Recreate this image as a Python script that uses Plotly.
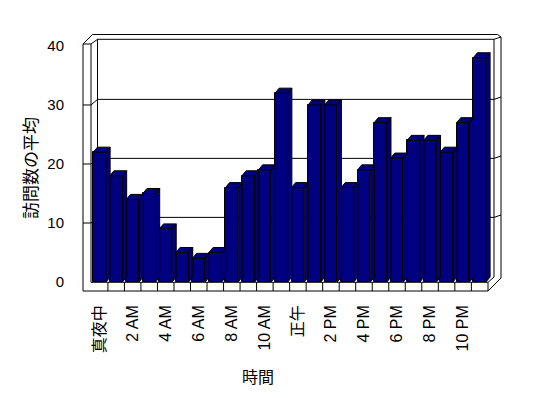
import plotly.graph_objects as go

# ---- data ----
hours = ["真夜中", "1 AM", "2 AM", "3 AM", "4 AM", "5 AM", "6 AM", "7 AM",
         "8 AM", "9 AM", "10 AM", "11 AM", "正午", "1 PM", "2 PM", "3 PM",
         "4 PM", "5 PM", "6 PM", "7 PM", "8 PM", "9 PM", "10 PM", "11 PM"]
visits = [22, 18, 14, 15, 9, 5, 4, 5, 16, 18, 19, 32,
          16, 30, 30, 16, 19, 27, 21, 24, 24, 22, 27, 38]
tick_labels = ["真夜中", "2 AM", "4 AM", "6 AM", "8 AM", "10 AM",
               "正午", "2 PM", "4 PM", "6 PM", "8 PM", "10 PM"]
y_ticks = [0, 10, 20, 30, 40]
x_title = "時間"
y_title = "訪問数の平均"

# ---- style constants ----
OFF = 8                                 # page body margin
FW, FH = 532, 382                       # figure size (fits inside 548x398 window)
L, R, T, B = 83, 501, 34, 291           # plot area in page pixels
NAVY = "#000080"
BAR_W = 0.77
DX, DY = 0.25, 0.85                     # bar depth (category units, value units)
WALL_DY = 0.95
FONT = "Liberation Sans, Arial, Noto Sans CJK JP, sans-serif"

x_pos = list(range(len(hours)))
x_range = [-1.008, 24.295]
y_range = [-1.525, 42.03]

def px(x):
    return (x - L) / (R - L)

def py(y):
    return (B - y) / (B - T)

fig = go.Figure()

# front faces
fig.add_trace(go.Bar(
    x=x_pos, y=visits, width=BAR_W,
    marker=dict(color=NAVY, line=dict(color="black", width=1)),
    hoverinfo="skip", showlegend=False,
))

# side and top faces computed from the data
xs, ys = [], []
for i, v in zip(x_pos, visits):
    l, r = i - BAR_W / 2, i + BAR_W / 2
    xs += [r, r + DX, r + DX, r, r, None]
    ys += [0, DY, v + DY, v, 0, None]
    xs += [l, l + DX, r + DX, r, l, None]
    ys += [v, v + DY, v + DY, v, v, None]
fig.add_trace(go.Scatter(
    x=xs, y=ys, mode="lines", fill="toself", fillcolor=NAVY,
    line=dict(color="black", width=1), hoverinfo="skip", showlegend=False,
))

shapes = []
def pline(x0, y0, x1, y1):
    shapes.append(dict(type="line", xref="paper", yref="paper",
                       x0=px(x0), y0=py(y0), x1=px(x1), y1=py(y1),
                       line=dict(color="black", width=1), layer="below"))

# walls frame (page pixels)
pline(83, 44, 83, 291)
pline(91, 44, 91, 282.3)
pline(83, 44, 91, 44)
pline(83, 44, 92.5, 34.5)
pline(91, 44, 97.5, 39.3)
pline(92.5, 34.5, 497.5, 34.5)
pline(497.5, 34.5, 501, 37)
pline(97.5, 39.3, 494, 39.3)
pline(494, 39.3, 501, 37)
pline(97.5, 39.3, 97.5, 277)
pline(494, 39.3, 494, 277)
pline(501, 37, 501, 278)
# floor
pline(91, 282.3, 488, 282.3)
pline(83, 291, 488, 291)
pline(488, 282.3, 488, 291)
pline(488, 282.3, 494, 277)
pline(488, 291, 501, 278)

# gridlines on walls via y scale
for v in y_ticks[1:-1]:
    for (xa, ya, xb, yb) in [(83, v, 91, v), (91, v, 97.5, v + WALL_DY),
                             (97.5, v + WALL_DY, 494, v + WALL_DY),
                             (494, v + WALL_DY, 501, v + WALL_DY + 0.4)]:
        shapes.append(dict(type="line", xref="paper", yref="y",
                           x0=px(xa), y0=ya, x1=px(xb), y1=yb,
                           line=dict(color="black", width=1), layer="below"))

# floor cell separators at category boundaries
for k in range(1, len(hours)):
    shapes.append(dict(type="line", xref="x", yref="paper",
                       x0=k - 0.5, x1=k - 0.5, y0=py(291), y1=py(282.3),
                       line=dict(color="black", width=1), layer="below"))

fig.update_layout(
    width=FW, height=FH, autosize=False,
    margin=dict(l=L - OFF, r=FW + OFF - R, t=T - OFF, b=FH + OFF - B, pad=0),
    paper_bgcolor="white", plot_bgcolor="white",
    font=dict(family=FONT, size=15, color="black"),
    shapes=shapes,
    bargap=0,
    xaxis=dict(range=x_range, showgrid=False, zeroline=False, showline=False,
               tickvals=x_pos[::2], ticktext=tick_labels, tickangle=-90,
               tickfont=dict(size=16),
               ticks="", ticklabelstandoff=10, fixedrange=True),
    yaxis=dict(range=y_range, showgrid=False, zeroline=False, showline=False,
               tickvals=y_ticks, ticks="", ticklabelstandoff=18, fixedrange=True),
    annotations=[
        dict(text=x_title, xref="paper", yref="paper", x=px(258), y=py(377),
             showarrow=False, font=dict(size=16), xanchor="center", yanchor="middle"),
        dict(text=y_title, xref="paper", yref="paper", x=px(32), y=py(168),
             showarrow=False, font=dict(size=17), textangle=-90,
             xanchor="center", yanchor="middle"),
    ],
)

fig.write_html("out.html")
